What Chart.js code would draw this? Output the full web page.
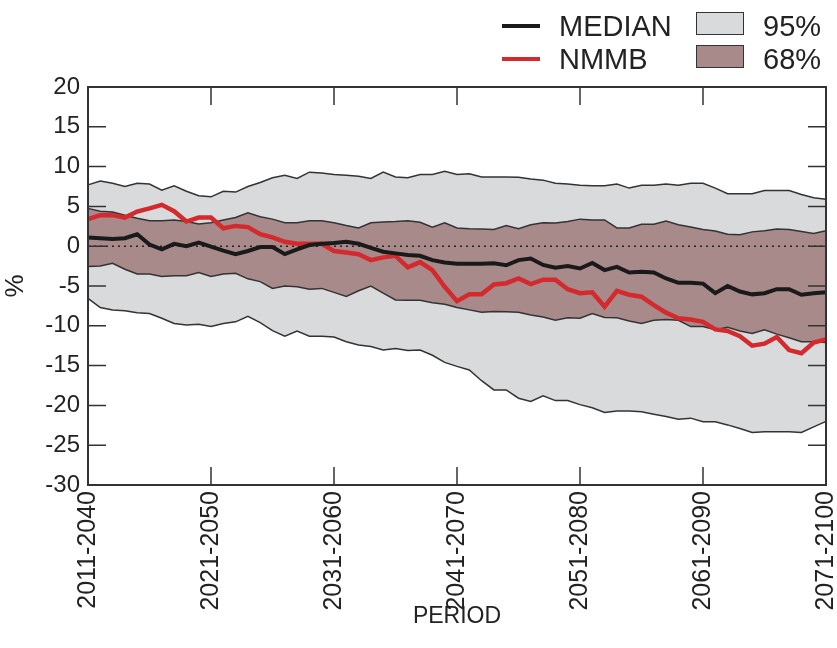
<!DOCTYPE html>
<html>
<head>
<meta charset="utf-8">
<script src="https://cdn.jsdelivr.net/npm/chart.js@4.4.1/dist/chart.umd.min.js"></script>
<style>
  body { margin: 0; background: #fff; font-family: "Liberation Sans", Arial, sans-serif; }
  #wrap { position: relative; width: 837px; height: 648px; }
  #legend { position: absolute; left: 0; top: 0; width: 837px; height: 80px; color: #222; font-size: 29px; }
  .item { position: absolute; line-height: 29px; }
  .swl { position: absolute; height: 4px; width: 38px; }
  .swb { position: absolute; width: 46px; height: 21px; border: 1.5px solid #333; }
</style>
</head>
<body>
<div id="wrap">
  <canvas id="chart" width="837" height="648"></canvas>
  <div id="legend">
    <div class="swl" style="left:502px; top:24px; background:#1a1a1a;"></div>
    <div class="item" style="left:559px; top:12px;">MEDIAN</div>
    <div class="swl" style="left:502px; top:57px; background:#d42a2d;"></div>
    <div class="item" style="left:559px; top:45px;">NMMB</div>
    <div class="swb" style="left:696px; top:12px; background:#d9dadc;"></div>
    <div class="item" style="left:763px; top:12px;">95%</div>
    <div class="swb" style="left:696px; top:45px; background:#a98a8a;"></div>
    <div class="item" style="left:763px; top:45px;">68%</div>
  </div>
</div>
<script>
const periods = [
    '2011-2040', '2012-2041', '2013-2042', '2014-2043', '2015-2044', '2016-2045', '2017-2046', '2018-2047', '2019-2048', '2020-2049',
    '2021-2050', '2022-2051', '2023-2052', '2024-2053', '2025-2054', '2026-2055', '2027-2056', '2028-2057', '2029-2058', '2030-2059',
    '2031-2060', '2032-2061', '2033-2062', '2034-2063', '2035-2064', '2036-2065', '2037-2066', '2038-2067', '2039-2068', '2040-2069',
    '2041-2070', '2042-2071', '2043-2072', '2044-2073', '2045-2074', '2046-2075', '2047-2076', '2048-2077', '2049-2078', '2050-2079',
    '2051-2080', '2052-2081', '2053-2082', '2054-2083', '2055-2084', '2056-2085', '2057-2086', '2058-2087', '2059-2088', '2060-2089',
    '2061-2090', '2062-2091', '2063-2092', '2064-2093', '2065-2094', '2066-2095', '2067-2096', '2068-2097', '2069-2098', '2070-2099',
    '2071-2100'
];

// which periods get a tick label
const tickPeriods = ['2011-2040', '2021-2050', '2031-2060', '2041-2070', '2051-2080', '2061-2090', '2071-2100'];

const upper95 = [
    7.7, 8.2, 7.9, 7.5, 7.9, 7.8, 7.05, 7.6, 6.9, 6.35,
    6.2, 6.9, 6.8, 7.5, 8.0, 8.6, 8.9, 8.5, 9.3, 9.2,
    9.0, 8.9, 8.8, 8.5, 9.3, 8.7, 8.6, 9.0, 9.0, 9.4,
    9.0, 9.1, 8.7, 8.7, 8.7, 8.65, 8.45, 8.3, 7.9, 7.8,
    7.65, 7.6, 7.6, 7.8, 7.3, 7.65, 7.65, 7.8, 7.65, 7.9,
    7.9, 7.3, 6.6, 6.6, 6.6, 7.0, 7.0, 7.0, 6.5, 6.1,
    5.9
];

const lower95 = [
    -6.55, -7.7, -8.0, -8.1, -8.35, -8.45, -9.05, -9.7, -9.9, -9.8,
    -10.1, -9.7, -9.5, -8.8, -9.6, -10.6, -11.3, -10.65, -11.3, -11.3,
    -11.4, -12.0, -12.4, -12.6, -13.05, -12.85, -13.1, -13.05, -13.7, -14.6,
    -15.1, -15.55, -16.9, -18.05, -18.05, -19.1, -19.5, -18.8, -19.4, -19.4,
    -19.9, -20.3, -20.9, -20.7, -20.7, -20.8, -21.1, -21.4, -21.75, -21.6,
    -22.05, -22.05, -22.45, -22.9, -23.4, -23.3, -23.3, -23.3, -23.4, -22.7,
    -22.0
];

const upper68 = [
    4.75, 4.4, 4.3, 3.9, 3.5, 3.2, 3.2, 3.3, 3.1, 2.8,
    2.95, 3.3, 3.6, 4.2, 3.7, 3.4, 2.95, 2.95, 3.2, 3.2,
    2.95, 2.6, 2.3, 2.95, 3.05, 3.1, 3.2, 3.0, 2.4, 2.95,
    2.3, 2.2, 2.15, 2.1, 2.6, 2.2, 2.7, 2.95, 2.9, 3.1,
    3.4, 3.3, 3.3, 2.3, 2.3, 2.75, 2.75, 3.15, 2.7, 2.4,
    2.1, 1.9, 1.5, 1.45, 1.8, 1.95, 2.15, 2.1, 1.85, 1.6,
    1.95
];

const lower68 = [
    -2.55, -2.5, -2.15, -2.9, -3.5, -3.5, -3.8, -3.7, -3.7, -3.3,
    -3.8, -3.5, -3.4, -4.1, -4.45, -5.3, -5.0, -5.1, -5.4, -5.3,
    -5.8, -6.3, -5.6, -5.0, -5.9, -6.75, -6.8, -6.8, -7.1, -7.3,
    -7.7, -8.0, -8.3, -8.2, -8.25, -8.3, -8.65, -8.9, -9.3, -9.0,
    -9.05, -8.45, -8.95, -9.0, -9.4, -9.7, -9.3, -9.2, -9.3, -10.1,
    -10.1, -10.5, -10.2, -10.65, -10.95, -10.5, -11.05, -11.5, -12.0, -12.0,
    -12.1
];

const median = [
    1.1, 1.0, 0.9, 1.0, 1.5, 0.2, -0.4, 0.3, 0.0, 0.45,
    -0.05, -0.55, -1.0, -0.6, -0.1, -0.1, -1.0, -0.4, 0.15, 0.3,
    0.4, 0.55, 0.3, -0.2, -0.7, -0.9, -1.1, -1.2, -1.75, -2.05,
    -2.2, -2.2, -2.2, -2.15, -2.4, -1.75, -1.55, -2.35, -2.7, -2.5,
    -2.8, -2.1, -3.0, -2.6, -3.3, -3.2, -3.3, -4.05, -4.6, -4.6,
    -4.7, -5.9, -5.0, -5.7, -6.05, -5.9, -5.4, -5.4, -6.1, -5.9,
    -5.8
];

const nmmb = [
    3.4, 3.9, 3.9, 3.6, 4.35, 4.75, 5.2, 4.4, 3.1, 3.6,
    3.6, 2.25, 2.55, 2.4, 1.5, 1.1, 0.55, 0.3, 0.3, 0.3,
    -0.6, -0.8, -1.0, -1.75, -1.4, -1.2, -2.65, -2.0, -3.0, -5.1,
    -6.9, -6.05, -6.05, -4.8, -4.65, -4.05, -4.75, -4.2, -4.2, -5.4,
    -5.9, -5.8, -7.6, -5.6, -6.1, -6.35, -7.4, -8.35, -9.05, -9.2,
    -9.5, -10.45, -10.65, -11.3, -12.5, -12.25, -11.4, -13.05, -13.45, -12.1,
    -11.7
];

const zeroLine = periods.map(() => 0);

const edgeColor = '#333333';
const font = 'Liberation Sans, Arial, sans-serif';

// inward ticks on all four sides plus the frame
const frameTicks = {
    id: 'frameTicks',
    afterDraw(chart) {
        const ctx = chart.ctx;
        const a = chart.chartArea;
        const xs = chart.scales.x;
        const ys = chart.scales.y;
        const len = 18;
        ctx.save();
        ctx.strokeStyle = edgeColor;
        ctx.lineWidth = 1.5;
        ctx.beginPath();
        ys.ticks.forEach((t, i) => {
            const y = ys.getPixelForTick(i);
            ctx.moveTo(a.left, y); ctx.lineTo(a.left + len, y);
            ctx.moveTo(a.right, y); ctx.lineTo(a.right - len, y);
        });
        periods.forEach((p, i) => {
            if (!tickPeriods.includes(p)) return;
            const x = xs.getPixelForValue(i);
            ctx.moveTo(x, a.top); ctx.lineTo(x, a.top + len);
            ctx.moveTo(x, a.bottom); ctx.lineTo(x, a.bottom - len);
        });
        ctx.stroke();
        ctx.lineWidth = 2;
        ctx.strokeRect(a.left, a.top, a.right - a.left, a.bottom - a.top);
        ctx.restore();
    }
};

const ctx = document.getElementById('chart').getContext('2d');

new Chart(ctx, {
    type: 'line',
    data: {
        labels: periods,
        datasets: [
            {
                label: '95% upper',
                data: upper95,
                borderColor: edgeColor,
                borderWidth: 1.5,
                backgroundColor: '#d9dadc',
                fill: 1,
                pointRadius: 0,
                order: 10
            },
            {
                label: '95% lower',
                data: lower95,
                borderColor: edgeColor,
                borderWidth: 1.5,
                fill: false,
                pointRadius: 0,
                order: 9
            },
            {
                label: '68% upper',
                data: upper68,
                borderColor: edgeColor,
                borderWidth: 1.5,
                backgroundColor: '#a98a8a',
                fill: 3,
                pointRadius: 0,
                order: 8
            },
            {
                label: '68% lower',
                data: lower68,
                borderColor: edgeColor,
                borderWidth: 1.5,
                fill: false,
                pointRadius: 0,
                order: 7
            },
            {
                label: 'zero',
                data: zeroLine,
                borderColor: '#222',
                borderWidth: 1.5,
                borderDash: [2, 4],
                fill: false,
                pointRadius: 0,
                order: 5
            },
            {
                label: 'NMMB',
                data: nmmb,
                borderColor: '#d42a2d',
                borderWidth: 4.5,
                fill: false,
                pointRadius: 0,
                order: 2
            },
            {
                label: 'MEDIAN',
                data: median,
                borderColor: '#1a1a1a',
                borderWidth: 4,
                fill: false,
                pointRadius: 0,
                order: 1
            }
        ]
    },
    options: {
        responsive: false,
        animation: false,
        layout: {
            padding: { top: 87, right: 11, left: 0, bottom: 0 }
        },
        plugins: {
            legend: { display: false },
            tooltip: { enabled: false }
        },
        scales: {
            x: {
                grid: { display: false, drawTicks: false },
                border: { display: false },
                afterFit(scale) {
                    scale.height = 163;
                    scale.paddingLeft = 0;
                    scale.paddingRight = 0;
                },
                ticks: {
                    autoSkip: false,
                    maxRotation: 90,
                    minRotation: 90,
                    padding: 6,
                    color: '#222',
                    font: { family: font, size: 25 },
                    callback: function(value) {
                        const p = periods[value];
                        return tickPeriods.includes(p) ? p : '';
                    }
                },
                title: {
                    display: true,
                    text: 'PERIOD',
                    color: '#222',
                    font: { family: font, size: 23 },
                    padding: { top: 0, bottom: 18 }
                }
            },
            y: {
                min: -30,
                max: 20,
                grid: { display: false, drawTicks: false },
                border: { display: false },
                afterFit(scale) {
                    scale.width = 88;
                    scale.paddingTop = 0;
                    scale.paddingBottom = 0;
                },
                ticks: {
                    stepSize: 5,
                    padding: 8,
                    color: '#222',
                    font: { family: font, size: 24 }
                },
                title: {
                    display: true,
                    text: '%',
                    color: '#222',
                    font: { family: font, size: 26 },
                    padding: { top: 0, bottom: 0 }
                }
            }
        }
    },
    plugins: [frameTicks]
});
</script>
</body>
</html>
